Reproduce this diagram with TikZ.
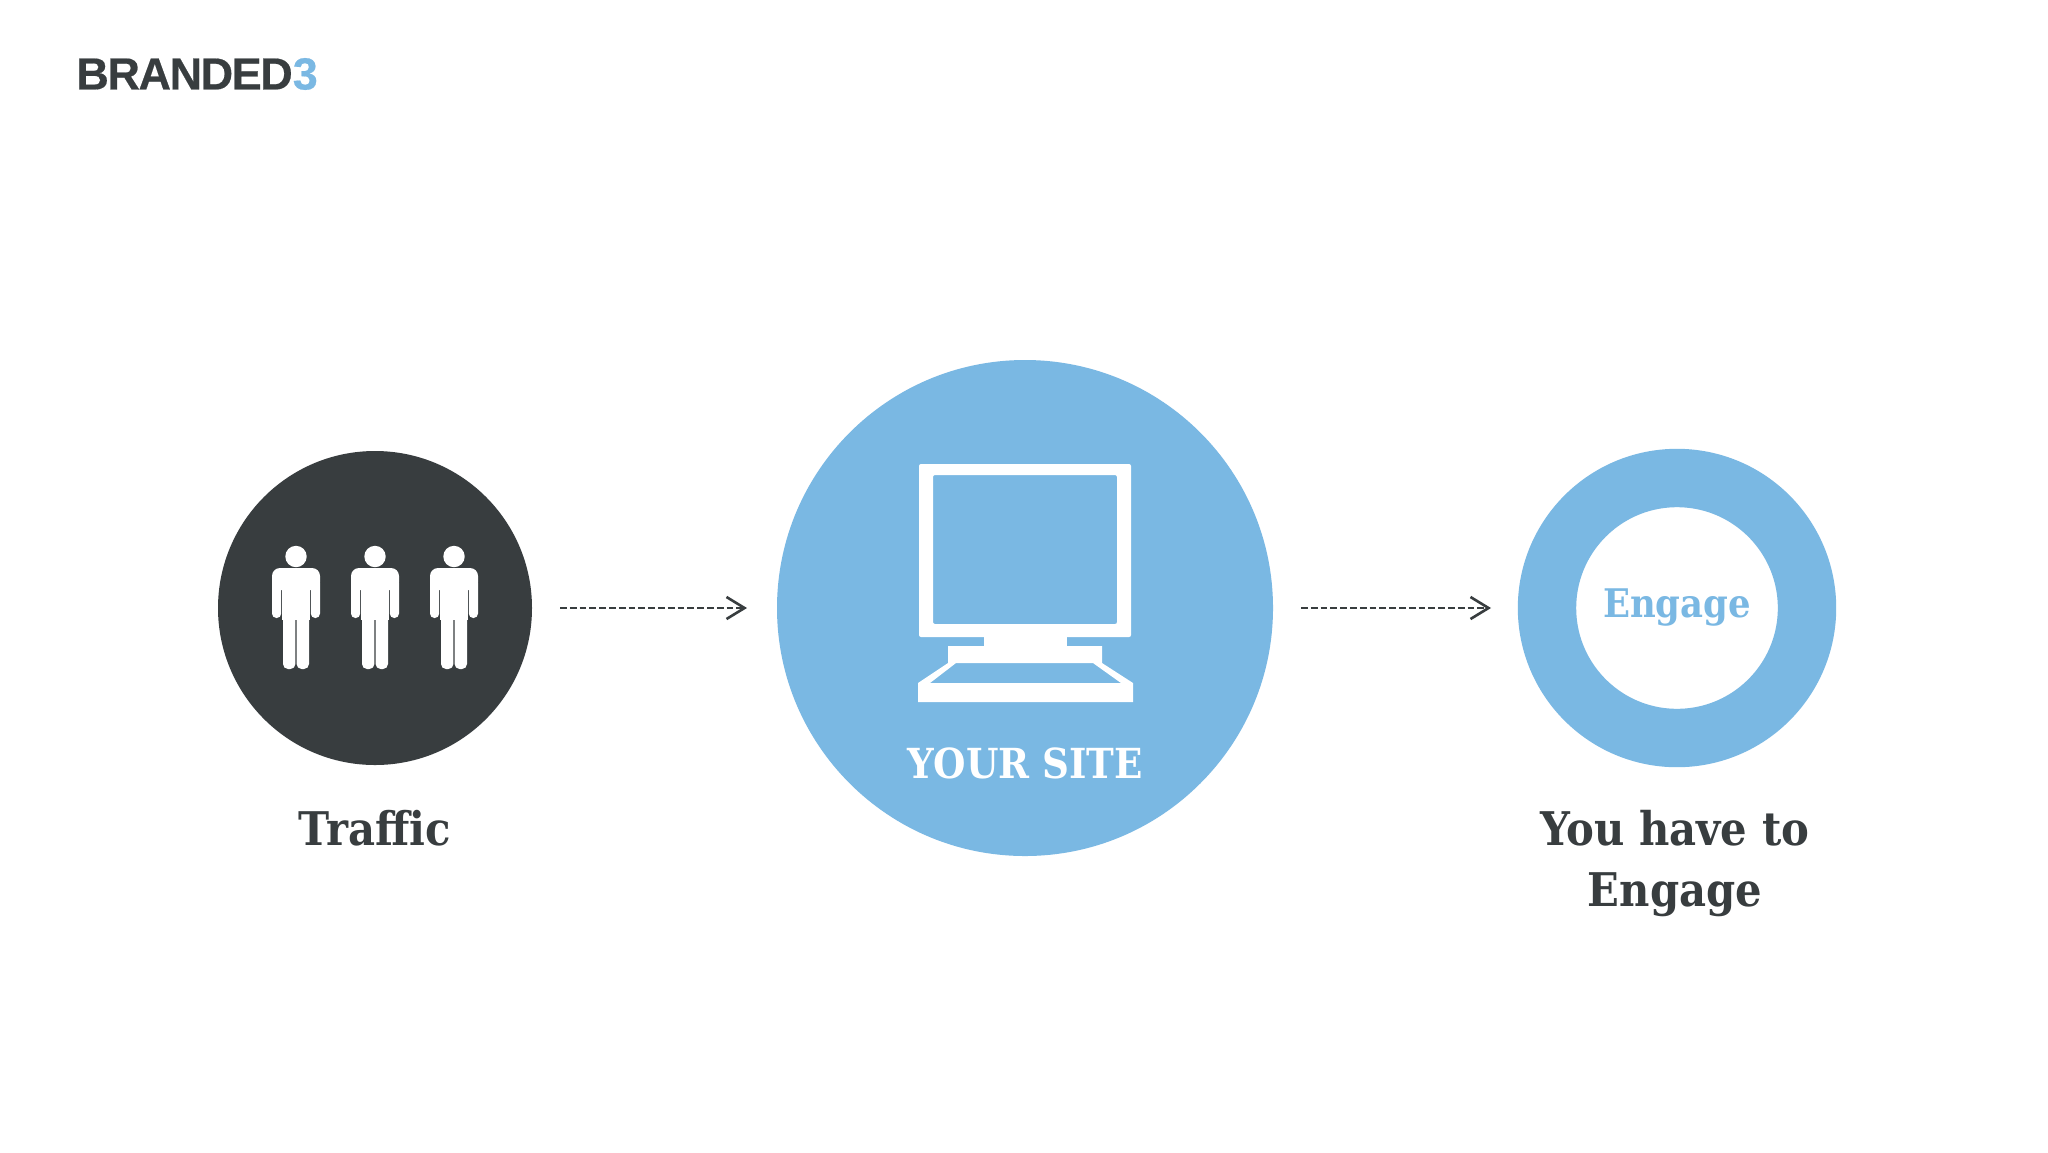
\documentclass[tikz,border=0pt]{standalone}
\usepackage{fontspec}
\setmainfont{DejaVu Serif Condensed}
\newfontfamily\logofont[LetterSpace=-3.2,FakeBold=0.4]{Liberation Sans}
\usepackage{xcolor}
\usetikzlibrary{arrows.meta,positioning}
\definecolor{darkgrey}{HTML}{383D3F}
\definecolor{siteblue}{HTML}{7AB8E3}
\tikzstyle{arrow} = [line width=1.3pt, darkgrey, dash pattern=on 3.4pt off 1.5pt, ->, >={Straight Barb[length=9pt,width=11pt]}, shorten <=14pt, shorten >=15pt]
\tikzstyle{circleNode} = [circle, inner sep=0pt, outer sep=0pt]
\tikzstyle{caption} = [font=\bfseries\fontsize{23.2}{30.5}\selectfont, text=darkgrey, align=center]
\tikzset{person/.pic={
    \fill [white] (0,-11.5) circle [radius=10.7];
    \fill [white, rounded corners=4pt] (-24,0) rectangle (24,22);
    \fill [white, rounded corners=2.2pt] (-24,10) rectangle (-14.8,50);
    \fill [white, rounded corners=2.2pt] (14.8,10) rectangle (24,50);
    \fill [white] (-14,10) rectangle (14,52);
    \fill [white, rounded corners=2.5pt] (-13,40) rectangle (-0.6,101);
    \fill [white, rounded corners=2.5pt] (0.6,40) rectangle (13,101);
}}
\begin{document}
\begin{tikzpicture}[x=0.5pt, y=-0.5pt]
    \useasboundingbox (0,0) rectangle (2048,1152);
    \fill [white] (0,0) rectangle (2048,1152);
    \node (logo) [anchor=west, inner sep=0pt, font=\logofont\bfseries\fontsize{22.5}{24}\selectfont, text=darkgrey] at (76,74) {BRANDED\textcolor{siteblue}{3}};
    \node (traffic) [circleNode, fill=darkgrey, minimum size=157pt] at (375,608) {};
    \node (site) [circleNode, fill=siteblue, minimum size=248pt] at (1025,608) {};
    \node (engage) [circleNode, draw=siteblue, fill=white, line width=29.2pt, minimum size=130pt, text=siteblue, font=\bfseries\fontsize{19.7}{24}\selectfont] at (1677,608) {\raisebox{-1.2pt}{Engage}};
    \pic at (296,568) {person};
    \pic at (375,568) {person};
    \pic at (454,568) {person};
    % monitor
    \fill [white, even odd rule, rounded corners=1pt] (919,464) rectangle (1131,637) (933,475) rectangle (1117,624);
    \fill [white] (984,636) rectangle (1067,650);
    \fill [white, even odd rule] (948,646) -- (1102,646) -- (1102,663) -- (1133,683) -- (1133,702) -- (918,702) -- (918,683) -- (948,663) -- cycle
        (956,663) -- (1093,663) -- (1121,683) -- (930,683) -- cycle;
    \node (sitelabel) [caption, text=white, font=\bfseries\fontsize{20.7}{30.5}\selectfont] at (1025,763) {YOUR SITE};
    \node (trafficlabel) [caption, below of = traffic, node distance=110pt] {Traffic};
    \node (engagelabel) [caption, below of = engage, node distance=128pt, xshift=-1pt] {You have to\\Engage};
    \draw [arrow] (traffic) -- (site);
    \draw [arrow, shorten >=28pt] (site) -- (engage);
\end{tikzpicture}
\end{document}
